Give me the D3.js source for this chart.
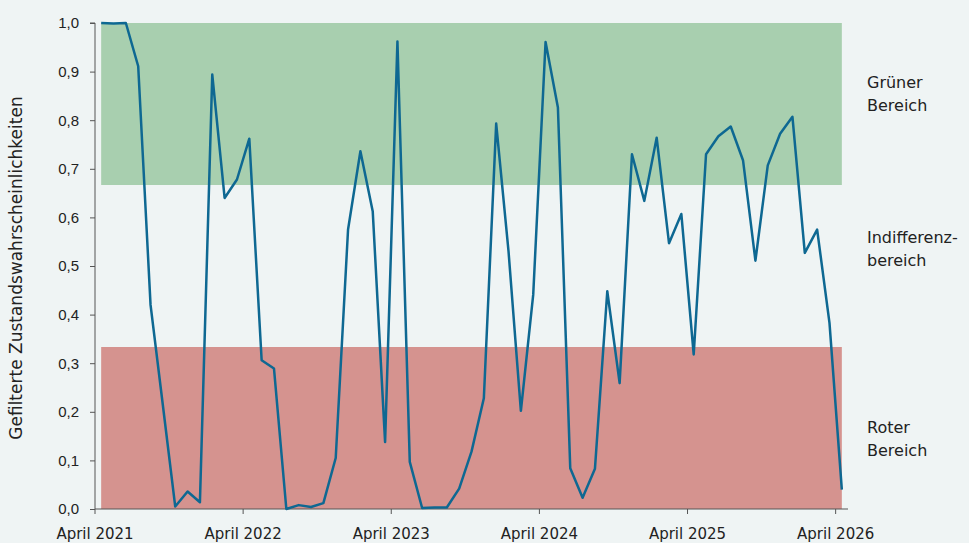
<!DOCTYPE html>
<html>
<head>
<meta charset="utf-8">
<script src="https://cdn.jsdelivr.net/npm/d3@7"></script>
<style>
  body { margin: 0; background: #eff4f4; }
  svg { display: block; font-family: "DejaVu Sans", sans-serif; }
</style>
</head>
<body>
<div id="chart"></div>
<script>
// monthly filtered state probabilities, April 2021 .. April 2026
const months = d3.timeMonth.range(new Date(2021, 3, 1), new Date(2026, 4, 1));
const values = [
  1.0, 0.999, 1.0, 0.911, 0.420, 0.213, 0.005, 0.036, 0.014, 0.894,
  0.640, 0.678, 0.762, 0.306, 0.289, 0.0, 0.008, 0.004, 0.012, 0.105,
  0.575, 0.736, 0.612, 0.138, 0.962, 0.097, 0.002, 0.003, 0.003, 0.042,
  0.118, 0.228, 0.793, 0.530, 0.202, 0.441, 0.961, 0.826, 0.084, 0.023,
  0.083, 0.448, 0.259, 0.730, 0.634, 0.764, 0.547, 0.607, 0.318, 0.730,
  0.767, 0.787, 0.717, 0.511, 0.707, 0.772, 0.807, 0.527, 0.575, 0.383,
  0.040
];
const yTicks = [0, 0.1, 0.2, 0.3, 0.4, 0.5, 0.6, 0.7, 0.8, 0.9, 1.0];
const xTickLabels = ["April 2021", "April 2022", "April 2023", "April 2024", "April 2025", "April 2026"];
const zones = [
  {from: 2 / 3, to: 1, color: "#a8cfaf"},
  {from: 0, to: 1 / 3, color: "#d5938f"}
];
const zoneLabels = [
  {lines: ["Grüner", "Bereich"], y: 0.866},
  {lines: ["Indifferenz-", "bereich"], y: 0.548},
  {lines: ["Roter", "Bereich"], y: 0.157}
];

const width = 969, height = 543;
const margin = {top: 23, right: 121, bottom: 34, left: 95};

const svg = d3.select("#chart").append("svg")
  .attr("width", width)
  .attr("height", height);

const x = d3.scaleBand()
  .domain(months)
  .range([margin.left, width - margin.right])
  .padding(0);
const cx = d => x(d) + x.bandwidth() / 2;

const y = d3.scaleLinear()
  .domain([0, 1])
  .range([height - margin.bottom, margin.top]);

// zones
svg.append("g").selectAll("rect")
  .data(zones)
  .join("rect")
    .attr("x", cx(months[0]))
    .attr("width", cx(months[months.length - 1]) - cx(months[0]))
    .attr("y", d => y(d.to))
    .attr("height", d => y(d.from) - y(d.to))
    .attr("fill", d => d.color);

// y axis
const yAxis = svg.append("g")
  .attr("transform", `translate(${margin.left},0)`)
  .call(d3.axisLeft(y).tickValues(yTicks).tickSize(5).tickPadding(11)
    .tickFormat(d => d3.format(".1f")(d).replace(".", ",")));
yAxis.selectAll("text").style("font-size", "15px").attr("fill", "#222");
yAxis.selectAll("line, path").attr("stroke", "#555");
yAxis.select(".domain").attr("d", `M-5,${y(1)}H0V${y(0)}`);

// x axis, ticks on the left edge of each April
const aprils = months.filter(d => d.getMonth() === 3);
const xAxis = svg.append("g")
  .attr("transform", `translate(0,${y(0)})`);
xAxis.append("line")
  .attr("x1", margin.left).attr("x2", width - margin.right)
  .attr("stroke", "#555");
const tick = xAxis.selectAll(".tick")
  .data(aprils)
  .join("g")
    .attr("class", "tick")
    .attr("transform", d => `translate(${x(d)},0)`);
tick.append("line").attr("y2", 5).attr("stroke", "#555");
tick.append("text")
  .attr("y", 30)
  .attr("text-anchor", "middle")
  .style("font-size", "15px")
  .attr("fill", "#222")
  .text((d, i) => xTickLabels[i]);

// y axis title
svg.append("text")
  .attr("transform", `translate(22,${(y(0) + y(1)) / 2 + 2}) rotate(-90)`)
  .attr("text-anchor", "middle")
  .style("font-size", "17px")
  .attr("fill", "#222")
  .text("Gefilterte Zustandswahrscheinlichkeiten");

// line
const line = d3.line()
  .x((d, i) => cx(months[i]))
  .y(d => y(d));
svg.append("path")
  .datum(values)
  .attr("fill", "none")
  .attr("stroke", "#0e6892")
  .attr("stroke-width", 2.5)
  .attr("stroke-linejoin", "round")
  .attr("d", line);

// zone labels
const zl = svg.append("g").selectAll("text")
  .data(zoneLabels)
  .join("text")
    .attr("x", 867)
    .attr("y", d => y(d.y))
    .style("font-size", "16px")
    .attr("fill", "#222");
zl.selectAll("tspan")
  .data(d => d.lines)
  .join("tspan")
    .attr("x", 867)
    .attr("dy", (d, i) => i === 0 ? 0 : 23)
    .text(d => d);
</script>
</body>
</html>
